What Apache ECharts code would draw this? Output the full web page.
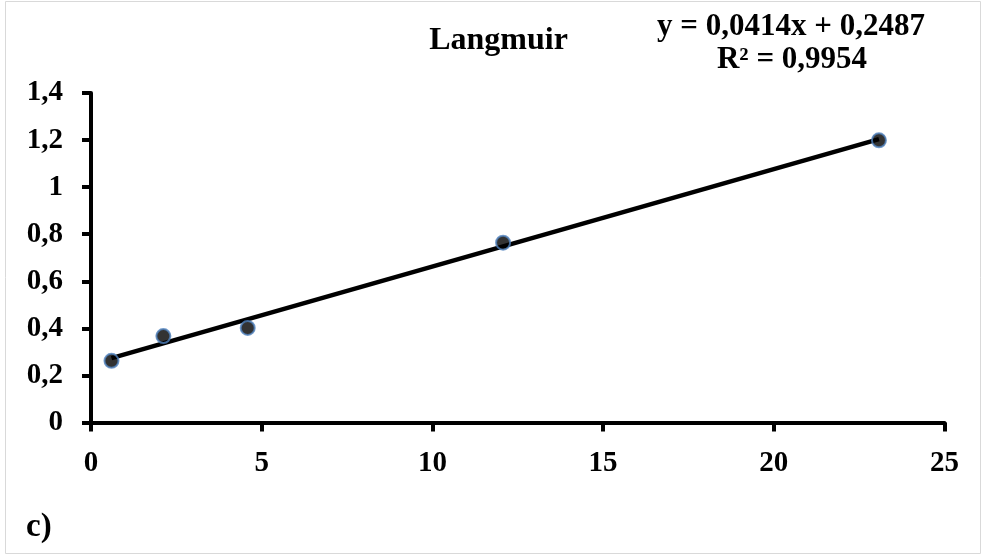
<!DOCTYPE html>
<html>
<head>
<meta charset="utf-8">
<script src="https://cdn.jsdelivr.net/npm/echarts@6/dist/echarts.min.js"></script>
<style>
html,body{margin:0;padding:0;background:#fff;}
#chart{width:983px;height:556px;}
</style>
</head>
<body>
<div id="chart"></div>
<script>
// Data
var xValues = [0.6, 2.12, 4.59, 12.07, 23.08];
var yValues = [0.262, 0.367, 0.402, 0.764, 1.199];
// Trendline coefficients (from the equation printed on the chart)
var slope = 0.0414;
var intercept = 0.2487;
var titleText = 'Langmuir';
var equationText = 'y = 0,0414x + 0,2487';
var r2Text = 'R² = 0,9954';
var panelLabel = 'c)';
var xTicks = {min: 0, max: 25, interval: 5};
var yTicks = {min: 0, max: 1.4, interval: 0.2};

var points = xValues.map(function (x, i) { return [x, yValues[i]]; });
var xMin = Math.min.apply(null, xValues), xMax = Math.max.apply(null, xValues);
var trend = [[xMin, slope * xMin + intercept], [xMax, slope * xMax + intercept]];

var FONT = '"Liberation Serif", "Times New Roman", serif';
var chart = echarts.init(document.getElementById('chart'));
var axisCommon = {
  axisLine: {show: true, onZero: false, lineStyle: {color: '#000', width: 4}},
  axisTick: {show: true, inside: false, length: 9, lineStyle: {color: '#000', width: 4}},
  splitLine: {show: false},
  axisLabel: {color: '#000', fontFamily: FONT, fontWeight: 'bold', fontSize: 29,
    formatter: function (v) { return String(Math.round(v * 10) / 10).replace('.', ','); }}
};
chart.setOption({
  backgroundColor: '#fff',
  animation: false,
  grid: {left: 91, right: 38.5, top: 93, bottom: 133.5, containLabel: false},
  xAxis: Object.assign({type: 'value', min: xTicks.min, max: xTicks.max, interval: xTicks.interval}, axisCommon,
    {axisLabel: Object.assign({}, axisCommon.axisLabel, {margin: 27})}),
  yAxis: Object.assign({type: 'value', min: yTicks.min, max: yTicks.max, interval: yTicks.interval}, axisCommon,
    {axisLabel: Object.assign({}, axisCommon.axisLabel, {margin: 28})}),
  series: [
    {type: 'line', data: trend, symbol: 'none', z: 2,
      lineStyle: {color: '#000', width: 4.5}},
    {type: 'scatter', data: points, symbol: 'circle', symbolSize: 14, z: 3,
      itemStyle: {color: '#000', borderColor: '#4f81bd', borderWidth: 2}}
  ],
  graphic: [
    {type: 'rect', shape: {x: 5.5, y: 1.5, width: 975, height: 552}, silent: true,
      style: {fill: 'none', stroke: '#d9d9d9', lineWidth: 1}},
    {type: 'text', x: 498.5, y: 41,
      style: {text: titleText, font: 'bold 32px ' + FONT, fill: '#000', textAlign: 'center', textVerticalAlign: 'middle'}},
    {type: 'text', x: 791, y: 27,
      style: {text: equationText, font: 'bold 31px ' + FONT, fill: '#000', textAlign: 'center', textVerticalAlign: 'middle'}},
    {type: 'text', x: 792, y: 60,
      style: {text: r2Text, font: 'bold 31px ' + FONT, fill: '#000', textAlign: 'center', textVerticalAlign: 'middle'}},
    {type: 'text', x: 26, y: 527,
      style: {text: panelLabel, font: 'bold 33px ' + FONT, fill: '#000', textVerticalAlign: 'middle'}}
  ]
});
</script>
</body>
</html>
